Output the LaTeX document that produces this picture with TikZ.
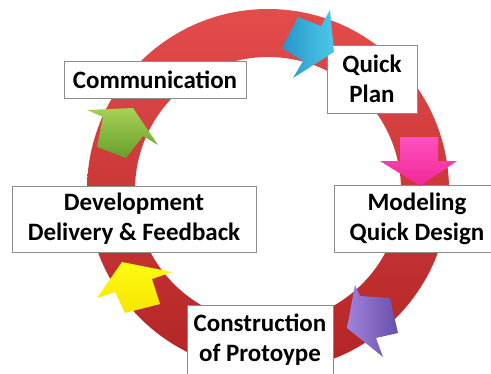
\documentclass[tikz,border=0pt]{standalone}
\usepackage{fontspec}
\setmainfont{Carlito}
\definecolor{ringtop}{RGB}{228,76,76}
\definecolor{ringbot}{RGB}{178,36,36}
\definecolor{boxgray}{RGB}{140,140,140}
\definecolor{grnA}{RGB}{166,210,84}
\definecolor{grnB}{RGB}{104,158,44}
\definecolor{bluA}{RGB}{78,200,234}
\definecolor{bluB}{RGB}{38,150,200}
\definecolor{pnkA}{RGB}{255,80,190}
\definecolor{pnkB}{RGB}{240,40,150}
\definecolor{purA}{RGB}{160,130,220}
\definecolor{purB}{RGB}{104,78,170}
\definecolor{ylwA}{RGB}{255,250,20}
\definecolor{ylwB}{RGB}{245,230,0}
\begin{document}
\begin{tikzpicture}[x=1pt,y=-1pt,
  lbl/.style={draw=boxgray, line width=0.8pt, fill=white, inner sep=0pt,
    align=center, font=\fontsize{25}{30}\selectfont\bfseries},
  blockarrow/.style={draw=none}]
\useasboundingbox (0,0) rectangle (491,373);
\clip (0,0) rectangle (491,373);
% ring
\coordinate (c) at (268,190);
\shade[top color=ringtop, bottom color=ringbot, even odd rule]
  (c) circle (181pt) (c) circle (133pt);
% boxes
\node[lbl, minimum width=182pt, minimum height=37pt] (comm) at (155,79.5) {Communication};
\node[lbl, minimum width=90pt, minimum height=68pt] (plan) at (372,79) {Quick\\Plan};
\node[lbl, minimum width=166pt, minimum height=67pt] (model) at (417,218.5) {Modeling\\Quick Design};
\node[lbl, minimum width=244pt, minimum height=66pt] (devel) at (134,219) {Development\\Delivery \& Feedback};
\node[lbl, minimum width=146pt, minimum height=70pt] (constr) at (260,340) {Construction\\of Protoype};
% block arrows
\shade[blockarrow, top color=grnA, bottom color=grnB]
  (87,110) -- (133,108) -- (158,145) -- (143,136) -- (126,158) -- (97,147) -- (103,117) -- cycle;
\shade[blockarrow, left color=bluB, right color=bluA]
  (298,17) -- (321,26) -- (330,10) -- (334,52) -- (293,78) -- (303,61) -- (282,48) -- cycle;
\shade[blockarrow, top color=pnkA, bottom color=pnkB]
  (400,137) -- (438,137) -- (438,161) -- (457,161) -- (420,186) -- (380,161) -- (400,161) -- cycle;
\shade[blockarrow, left color=purA, right color=purB]
  (355,285) -- (360,296) -- (390,298) -- (398,333) -- (376,338) -- (383,357) -- (347,328) -- cycle;
\shade[blockarrow, top color=ylwA, bottom color=ylwB]
  (97,298) -- (122,262) -- (172,272) -- (152,279) -- (160,304) -- (125,313) -- (115,292) -- cycle;
\end{tikzpicture}
\end{document}
